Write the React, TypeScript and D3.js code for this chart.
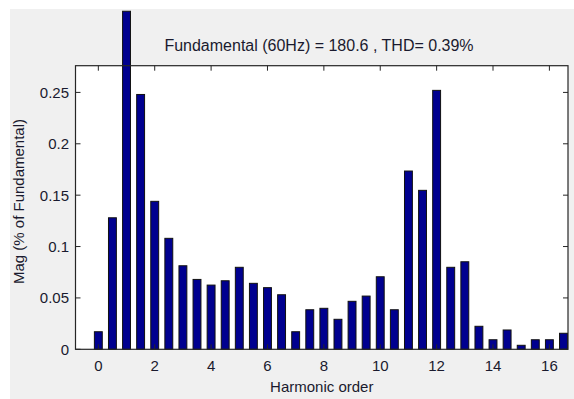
import React from 'react';
import * as d3 from 'd3';

// harmonic orders (0 to 16.5 in half steps) and magnitudes in % of fundamental
const orders = [0, 0.5, 1, 1.5, 2, 2.5, 3, 3.5, 4, 4.5, 5, 5.5, 6, 6.5, 7, 7.5, 8, 8.5, 9, 9.5, 10, 10.5, 11, 11.5, 12, 12.5, 13, 13.5, 14, 14.5, 15, 15.5, 16, 16.5];
const mags = [0.0171, 0.128, 0.329, 0.248, 0.144, 0.108, 0.0813, 0.068, 0.0625, 0.0667, 0.0798, 0.0642, 0.06, 0.0531, 0.0171, 0.0385, 0.0399, 0.0292, 0.0467, 0.0518, 0.0706, 0.0385, 0.1735, 0.1547, 0.252, 0.0798, 0.0852, 0.0224, 0.0093, 0.0188, 0.0039, 0.0093, 0.0093, 0.0156];
const xTicks = [0, 2, 4, 6, 8, 10, 12, 14, 16];
const yTicks = [0, 0.05, 0.1, 0.15, 0.2, 0.25];
const title = 'Fundamental (60Hz) = 180.6 , THD= 0.39%';

const W = 574;
const H = 399;
const left = 75.5;
const right = 568;
const top = 65.7;
const bottom = 349.3;
const font = '"Liberation Sans", Arial, sans-serif';
const ink = '#1a1a2e';

export default function App() {
  const x = d3.scaleLinear().domain([-0.81, 16.66]).range([left, right]);
  const y = d3.scaleLinear().domain([0, 0.276]).range([bottom, top]);
  const barW = x(0.28) - x(0);
  const tick = 5;

  return (
    <svg width={W} height={H} style={{ position: 'absolute', left: 0, top: 0 }}>
      <rect x={0} y={0} width={W} height={H} fill="#fff" />
      <rect x={10} y={9} width={W - 10} height={H - 9} fill="#f0f0f0" />
      <rect x={left} y={top} width={right - left} height={bottom - top} fill="#fff" />

      {/* bars */}
      {orders.map((o, i) => (
        <rect
          key={i}
          x={x(o) - barW / 2}
          y={y(mags[i])}
          width={barW}
          height={y(0) - y(mags[i])}
          fill="#00008f"
          stroke="#111"
          strokeWidth={1}
        />
      ))}

      {/* axes box */}
      <rect x={left} y={top} width={right - left} height={bottom - top} fill="none" stroke="#262626" strokeWidth={1.2} />

      {/* x ticks, inside on bottom and top */}
      {xTicks.map((t) => (
        <g key={'x' + t}>
          <line x1={x(t)} x2={x(t)} y1={bottom} y2={bottom - tick} stroke="#262626" />
          <line x1={x(t)} x2={x(t)} y1={top} y2={top + tick} stroke="#262626" />
          <text x={x(t)} y={371} textAnchor="middle" fontFamily={font} fontSize={15} fill={ink}>
            {t}
          </text>
        </g>
      ))}

      {/* y ticks, inside on left and right */}
      {yTicks.map((t) => (
        <g key={'y' + t}>
          <line x1={left} x2={left + tick} y1={y(t)} y2={y(t)} stroke="#262626" />
          <line x1={right} x2={right - tick} y1={y(t)} y2={y(t)} stroke="#262626" />
          <text x={69} y={y(t) + 5.5} textAnchor="end" fontFamily={font} fontSize={15} fill={ink}>
            {t}
          </text>
        </g>
      ))}

      <text x={(left + right) / 2} y={392} textAnchor="middle" fontFamily={font} fontSize={15} fill={ink}>
        Harmonic order
      </text>
      <text
        transform={`translate(24,${(top + bottom) / 2 - 6}) rotate(-90)`}
        textAnchor="middle"
        fontFamily={font}
        fontSize={15}
        fill={ink}
      >
        Mag (% of Fundamental)
      </text>
      <text x={319} y={51} textAnchor="middle" fontFamily={font} fontSize={16} fill={ink}>
        {title}
      </text>
    </svg>
  );
}
